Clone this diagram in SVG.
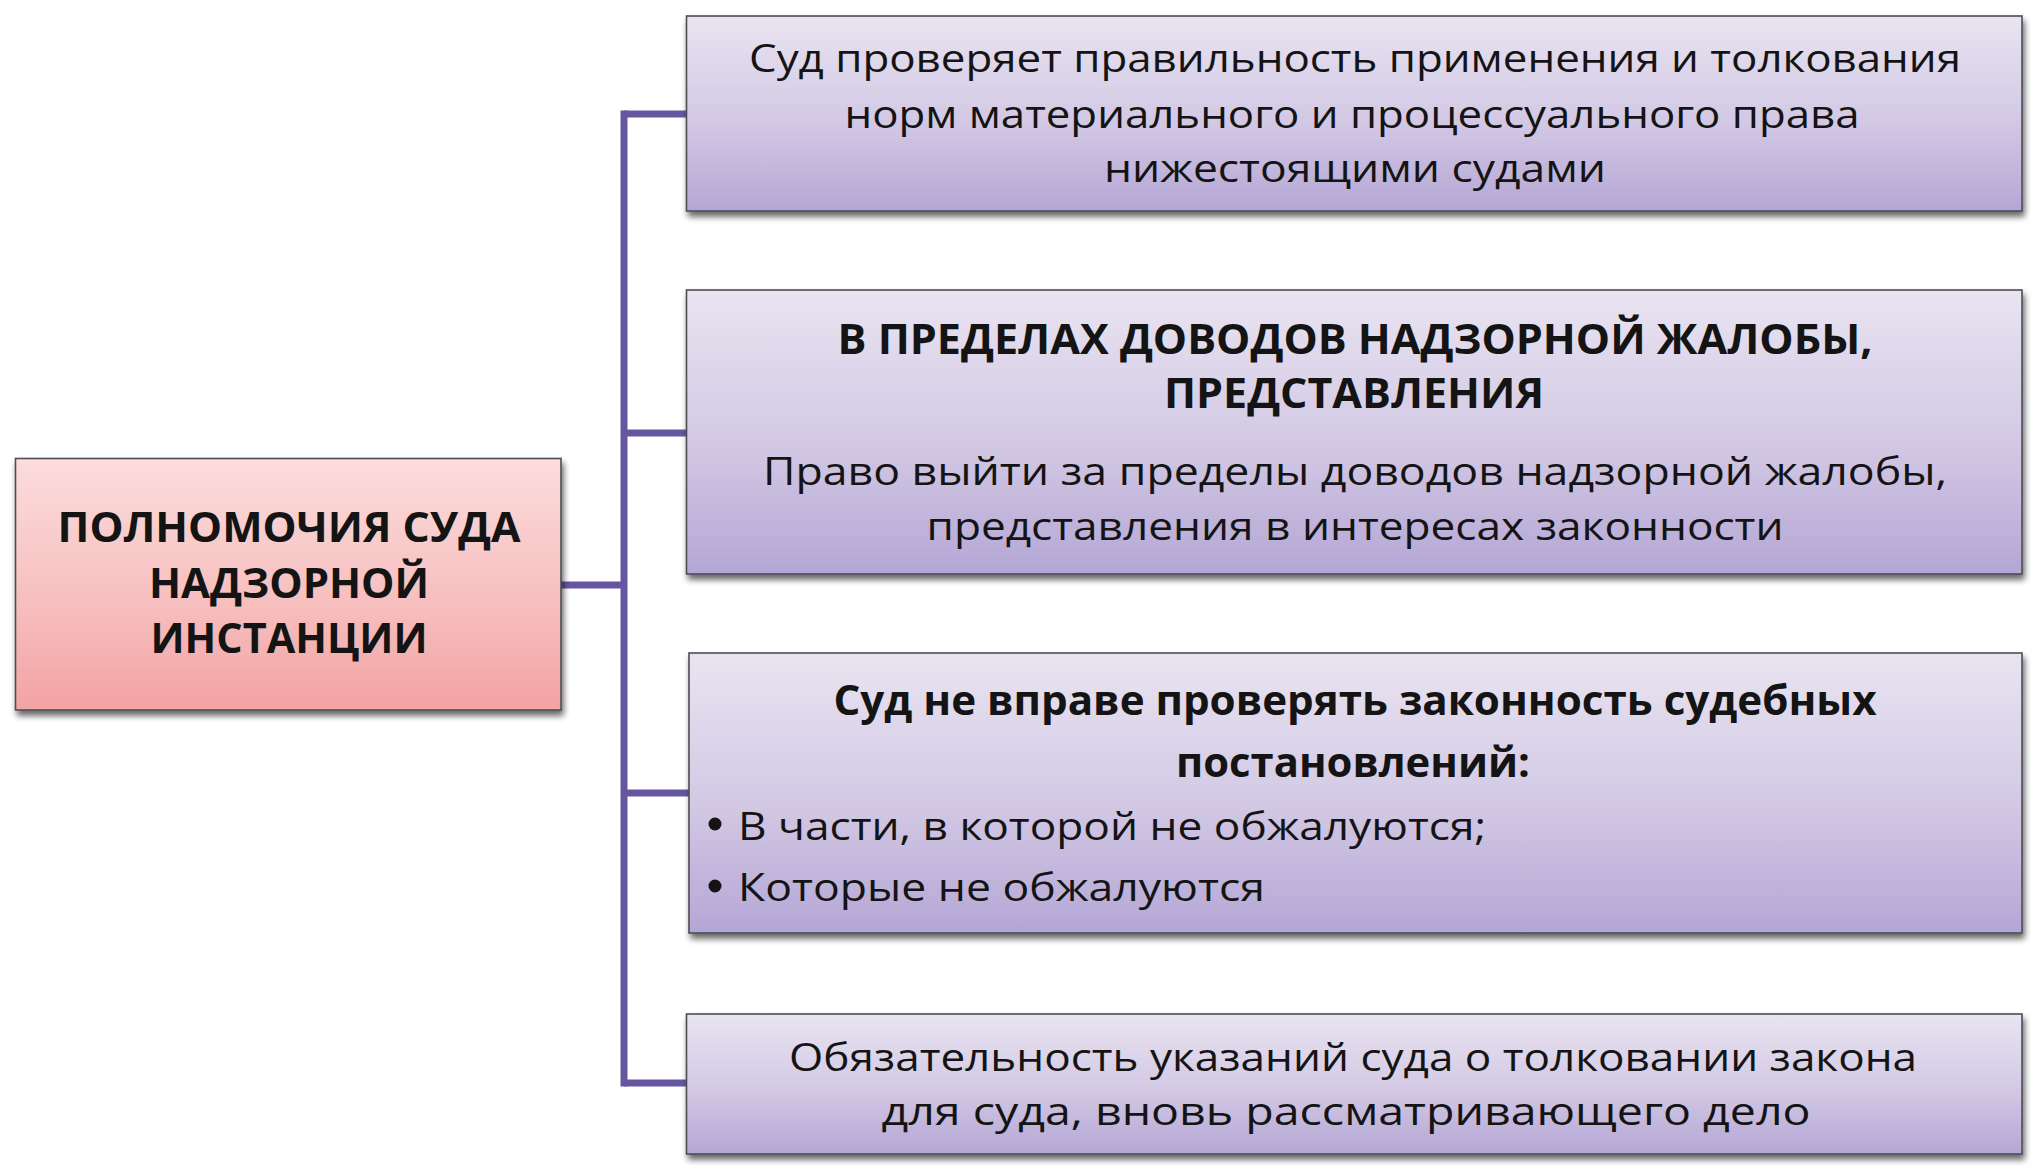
<svg xmlns="http://www.w3.org/2000/svg" width="2031" height="1168" viewBox="0 0 2031 1168">
<defs>
  <linearGradient id="gLav" x1="0" y1="0" x2="0" y2="1">
    <stop offset="0" stop-color="#e9e4f1"/>
    <stop offset="0.55" stop-color="#d2c8e4"/>
    <stop offset="1" stop-color="#b4a6d5"/>
  </linearGradient>
  <linearGradient id="gPink" x1="0" y1="0" x2="0" y2="1">
    <stop offset="0" stop-color="#fcdcdc"/>
    <stop offset="0.55" stop-color="#f7c0c0"/>
    <stop offset="1" stop-color="#f2a3a3"/>
  </linearGradient>
  <filter id="shadow" x="-5%" y="-10%" width="110%" height="125%">
    <feGaussianBlur in="SourceAlpha" stdDeviation="3"/>
    <feOffset dx="2" dy="5" result="o"/>
    <feComponentTransfer><feFuncA type="linear" slope="0.6"/></feComponentTransfer>
    <feMerge><feMergeNode/><feMergeNode in="SourceGraphic"/></feMerge>
  </filter>
</defs>
<style>
  .box { stroke: #4d4d55; stroke-width: 1.6; filter: url(#shadow); }
  .lav { fill: url(#gLav); }
  .pink { fill: url(#gPink); }
  .t { font-family: "Open Sans", "Noto Sans", "DejaVu Sans", sans-serif; font-size: 39px; fill: #141414; text-anchor: middle; }
  .b { font-weight: bold; font-size: 41px; }
  .l { text-anchor: start; }
  .conn { fill: none; stroke: #6656a0; stroke-width: 7; }
</style>
<rect width="2031" height="1168" fill="#ffffff"/>

<g id="connectors">
  <line class="conn" x1="624" y1="110.5" x2="624" y2="1086.5"/>
  <line class="conn" x1="561" y1="585" x2="624" y2="585"/>
  <line class="conn" x1="624" y1="114" x2="687" y2="114"/>
  <line class="conn" x1="624" y1="433" x2="687" y2="433"/>
  <line class="conn" x1="624" y1="793" x2="689" y2="793"/>
  <line class="conn" x1="624" y1="1083" x2="687" y2="1083"/>
</g>

<g id="node-main">
  <rect class="box pink" x="15.5" y="458.5" width="545.5" height="251.5"/>
  <text class="t b" x="289" y="542" textLength="463" lengthAdjust="spacingAndGlyphs">ПОЛНОМОЧИЯ СУДА</text>
  <text class="t b" x="289" y="598" textLength="280" lengthAdjust="spacingAndGlyphs">НАДЗОРНОЙ</text>
  <text class="t b" x="289" y="653" textLength="277" lengthAdjust="spacingAndGlyphs">ИНСТАНЦИИ</text>
</g>

<g id="node-1">
  <rect class="box lav" x="686.5" y="16" width="1335.5" height="195"/>
  <text class="t" x="1355" y="72" textLength="1212" lengthAdjust="spacingAndGlyphs">Суд проверяет правильность применения и толкования</text>
  <text class="t" x="1352" y="128" textLength="1015" lengthAdjust="spacingAndGlyphs">норм материального и процессуального права</text>
  <text class="t" x="1355" y="182" textLength="502" lengthAdjust="spacingAndGlyphs">нижестоящими судами</text>
</g>

<g id="node-2">
  <rect class="box lav" x="686.5" y="290" width="1335.5" height="284"/>
  <text class="t b" x="1355" y="354" textLength="1035" lengthAdjust="spacingAndGlyphs">В ПРЕДЕЛАХ ДОВОДОВ НАДЗОРНОЙ ЖАЛОБЫ,</text>
  <text class="t b" x="1354" y="408" textLength="380" lengthAdjust="spacingAndGlyphs">ПРЕДСТАВЛЕНИЯ</text>
  <text class="t" x="1355" y="485" textLength="1184" lengthAdjust="spacingAndGlyphs">Право выйти за пределы доводов надзорной жалобы,</text>
  <text class="t" x="1355" y="540" textLength="857" lengthAdjust="spacingAndGlyphs">представления в интересах законности</text>
</g>

<g id="node-3">
  <rect class="box lav" x="689" y="653" width="1333" height="280"/>
  <text class="t b" x="1355" y="715" textLength="1043" lengthAdjust="spacingAndGlyphs">Суд не вправе проверять законность судебных</text>
  <text class="t b" x="1353" y="777" textLength="354" lengthAdjust="spacingAndGlyphs">постановлений:</text>
  <circle cx="715" cy="824" r="6.5" fill="#141414"/>
  <text class="t l" x="738" y="840" textLength="748" lengthAdjust="spacingAndGlyphs">В части, в которой не обжалуются;</text>
  <circle cx="715" cy="886" r="6.5" fill="#141414"/>
  <text class="t l" x="738" y="901" textLength="527" lengthAdjust="spacingAndGlyphs">Которые не обжалуются</text>
</g>

<g id="node-4">
  <rect class="box lav" x="686.5" y="1014" width="1335.5" height="140"/>
  <text class="t" x="1353" y="1071" textLength="1128" lengthAdjust="spacingAndGlyphs">Обязательность указаний суда о толковании закона</text>
  <text class="t" x="1346" y="1125" textLength="929" lengthAdjust="spacingAndGlyphs">для суда, вновь рассматривающего дело</text>
</g>
</svg>
